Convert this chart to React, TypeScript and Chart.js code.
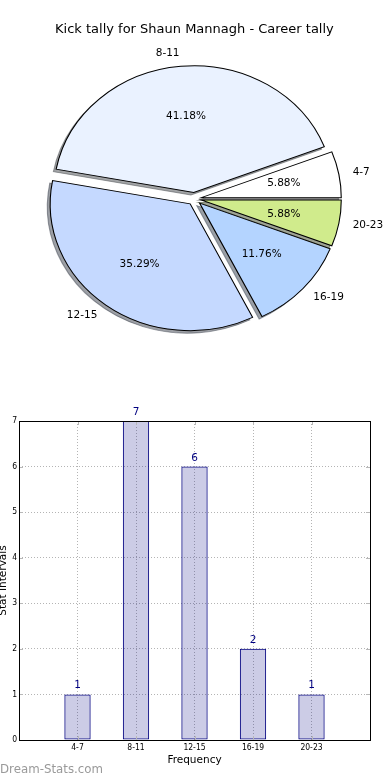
import React, { useEffect, useRef } from 'react';
import { Chart, registerables } from 'chart.js';

Chart.register(...registerables);

// ---------- data ----------
const TITLE = 'Kick tally for Shaun Mannagh - Career tally';
const categories = ['4-7', '8-11', '12-15', '16-19', '20-23'];
const counts = [1, 7, 6, 2, 1];
const sliceColors = ['#ffffff', '#eaf2ff', '#c5d9ff', '#b4d4ff', '#d0eb8c'];
const yTickValues = [0, 1, 2, 3, 4, 5, 6, 7];
const xTickValues = [-1, 0, 1, 2, 3, 4, 5];
const X_TITLE = 'Frequency';
const Y_TITLE = 'Stat Intervals';
const WATERMARK = 'Dream-Stats.com';

// ---------- styling ----------
const FONT = '"DejaVu Sans", sans-serif';
const SMALL_FONT = '"DejaVu Sans Condensed", "DejaVu Sans", sans-serif';
const ASPECT = 1.104; // horizontal stretch of the pie (ellipse)
const EXPLODE = 0.05;
const SHADOW = 0.02;
const PIE_R = 126.8;

Chart.defaults.color = '#000';
Chart.defaults.font.family = FONT;

function hexToRgb(h: string) {
  const s = h.replace('#', '');
  return [0, 2, 4].map((i) => parseInt(s.slice(i, i + 2), 16));
}

const pieGeometry = {
  id: 'pieGeometry',
  afterDatasetsUpdate(chart: any) {
    const ca = chart.chartArea;
    const cx = (ca.left + ca.right) / 2;
    const cy = (ca.top + ca.bottom) / 2;
    chart.$pivot = { cx, cy };
    chart.getDatasetMeta(0).data.forEach((el: any) => {
      const a = (el.startAngle + el.endAngle) / 2;
      const r = el.outerRadius;
      el.x = cx + Math.cos(a) * EXPLODE * r;
      el.y = cy + Math.sin(a) * EXPLODE * r;
    });
  },
  beforeDatasetsDraw(chart: any) {
    const ctx = chart.ctx;
    const { cx, cy } = chart.$pivot;
    ctx.save();
    ctx.translate(cx, cy);
    ctx.scale(ASPECT, 1);
    ctx.translate(-cx, -cy);
    chart.getDatasetMeta(0).data.forEach((el: any) => {
      const r = el.outerRadius;
      const sx = el.x - SHADOW * r;
      const sy = el.y + SHADOW * r;
      const [R, G, B] = hexToRgb(el.options.backgroundColor);
      const col = `rgba(${Math.round(R * 0.3)},${Math.round(G * 0.3)},${Math.round(B * 0.3)},0.5)`;
      ctx.beginPath();
      ctx.moveTo(sx, sy);
      ctx.arc(sx, sy, r, el.startAngle, el.endAngle);
      ctx.closePath();
      ctx.fillStyle = col;
      ctx.fill();
      ctx.strokeStyle = col;
      ctx.lineWidth = 1;
      ctx.stroke();
    });
  },
  afterDatasetsDraw(chart: any) {
    const ctx = chart.ctx;
    ctx.restore();
    const { cx } = chart.$pivot;
    const labels = chart.data.labels;
    const data = chart.data.datasets[0].data;
    const total = data.reduce((s: number, v: number) => s + v, 0);
    ctx.save();
    ctx.fillStyle = '#000';
    ctx.textBaseline = 'middle';
    ctx.font = `10.5px ${FONT}`;
    chart.getDatasetMeta(0).data.forEach((el: any, i: number) => {
      const a = (el.startAngle + el.endAngle) / 2;
      const ux = Math.cos(a);
      const uy = Math.sin(a);
      const r = el.outerRadius;
      const px = (d: number) => cx + ASPECT * (el.x - cx + ux * d * r);
      const py = (d: number) => el.y + uy * d * r;
      ctx.textAlign = ux > 0 ? 'left' : 'right';
      ctx.fillText(String(labels[i]), px(1.1), py(1.1));
      ctx.textAlign = 'center';
      ctx.fillText(((data[i] / total) * 100).toFixed(2) + '%', px(0.6), py(0.6));
    });
    ctx.restore();
  },
};

const frame = {
  id: 'frame',
  afterDatasetsDraw(chart: any) {
    const ctx = chart.ctx;
    const { left, top, right, bottom } = chart.chartArea;
    const xs = chart.scales.x;
    const ys = chart.scales.y;
    ctx.save();
    // inward tick marks on all four sides
    ctx.strokeStyle = '#b8b8b8';
    ctx.lineWidth = 1;
    ctx.beginPath();
    xTickValues.forEach((v) => {
      const x = Math.round(xs.getPixelForValue(v)) + 0.5;
      ctx.moveTo(x, top);
      ctx.lineTo(x, top + 4);
      ctx.moveTo(x, bottom);
      ctx.lineTo(x, bottom - 4);
    });
    yTickValues.forEach((v) => {
      const y = Math.round(ys.getPixelForValue(v)) + 0.5;
      ctx.moveTo(left, y);
      ctx.lineTo(left + 4, y);
      ctx.moveTo(right, y);
      ctx.lineTo(right - 4, y);
    });
    ctx.stroke();
    ctx.strokeStyle = '#000';
    ctx.strokeRect(Math.round(left) + 0.5, Math.round(top) + 0.5, Math.round(right - left), Math.round(bottom - top));
    // value labels above bars
    const meta = chart.getDatasetMeta(0);
    const ds = chart.data.datasets[0].data;
    ctx.fillStyle = '#000080';
    ctx.font = `10.5px ${FONT}`;
    ctx.textAlign = 'center';
    ctx.textBaseline = 'alphabetic';
    meta.data.forEach((bar: any, i: number) => {
      ctx.fillText(String(ds[i].y), bar.x, bar.y - 6);
    });
    // watermark
    ctx.fillStyle = '#9a9a9a';
    ctx.font = `11.8px ${FONT}`;
    ctx.textAlign = 'left';
    ctx.fillText(WATERMARK, 0, 373.3);
    ctx.restore();
  },
};

export default function App() {
  const pieRef = useRef<HTMLCanvasElement>(null);
  const barRef = useRef<HTMLCanvasElement>(null);

  useEffect(() => {
    const order = categories.map((_, i) => i).reverse();
    const pie = new Chart(pieRef.current as HTMLCanvasElement, {
      type: 'pie',
      data: {
        labels: order.map((i) => categories[i]),
        datasets: [
          {
            data: order.map((i) => counts[i]),
            backgroundColor: order.map((i) => sliceColors[i]),
            borderColor: '#000',
            borderWidth: 1,
            borderJoinStyle: 'miter',
            radius: PIE_R,
            clip: false,
          } as any,
        ],
      },
      options: {
        animation: false,
        responsive: false,
        events: [],
        rotation: 90,
        layout: { padding: { top: 0, left: 0, right: 1.2, bottom: 40.2 } },
        plugins: {
          legend: { display: false },
          tooltip: { enabled: false },
          title: {
            display: true,
            text: TITLE,
            color: '#000',
            font: { family: FONT, size: 13, weight: 'normal', lineHeight: 1.2 },
            padding: { top: 22.2, bottom: 0 },
          },
        },
      } as any,
      plugins: [pieGeometry],
    });

    const gridCommon = { color: '#b4b4b4', lineWidth: 1, drawTicks: false, offset: false, borderDash: [1, 2] };
    const bar = new Chart(barRef.current as HTMLCanvasElement, {
      type: 'bar',
      data: {
        datasets: [
          {
            data: categories.map((_, i) => ({ x: i, y: counts[i] })),
            backgroundColor: 'rgba(0,0,128,0.2)',
            borderColor: '#000080',
            borderWidth: 1,
            borderSkipped: false,
            barPercentage: 0.45,
            categoryPercentage: 1,
          } as any,
        ],
      },
      options: {
        animation: false,
        responsive: false,
        events: [],
        layout: { padding: { top: 21, right: 20, left: 0, bottom: 0 } },
        plugins: { legend: { display: false }, tooltip: { enabled: false }, title: { display: false } },
        scales: {
          x: {
            type: 'linear',
            min: -1,
            max: 5,
            offset: false,
            afterBuildTicks: (s: any) => {
              s.ticks = xTickValues.map((v) => ({ value: v }));
            },
            ticks: {
              stepSize: 1,
              autoSkip: false,
              maxRotation: 0,
              padding: 3,
              font: { family: SMALL_FONT, size: 8.5 },
              callback: (v: any) => categories[v] ?? '',
            },
            grid: gridCommon,
            border: { display: false, dash: [1, 2] },
            title: {
              display: true,
              text: X_TITLE,
              font: { family: FONT, size: 10.5, lineHeight: 1.2 },
              padding: { top: 0, bottom: 13.7 },
            },
            afterFit: (s: any) => {
              s.height = 40;
            },
          },
          y: {
            type: 'linear',
            min: 0,
            max: 7,
            afterBuildTicks: (s: any) => {
              s.ticks = yTickValues.map((v) => ({ value: v }));
            },
            ticks: { stepSize: 1, padding: 2, font: { family: SMALL_FONT, size: 8.5 } },
            grid: gridCommon,
            border: { display: false, dash: [1, 2] },
            title: {
              display: true,
              text: Y_TITLE,
              font: { family: FONT, size: 10.5, lineHeight: 0.667 },
              padding: 0,
            },
            afterFit: (s: any) => {
              s.width = 19;
            },
          },
        },
      } as any,
      plugins: [frame],
    });

    return () => {
      pie.destroy();
      bar.destroy();
    };
  }, []);

  return (
    <div style={{ position: 'absolute', left: 0, top: 0, width: 390, height: 780, background: '#fff' }}>
      <canvas ref={pieRef} width={390} height={400} style={{ position: 'absolute', left: 0, top: 0, display: 'block' }} />
      <canvas ref={barRef} width={390} height={380} style={{ position: 'absolute', left: 0, top: 400, display: 'block' }} />
    </div>
  );
}
